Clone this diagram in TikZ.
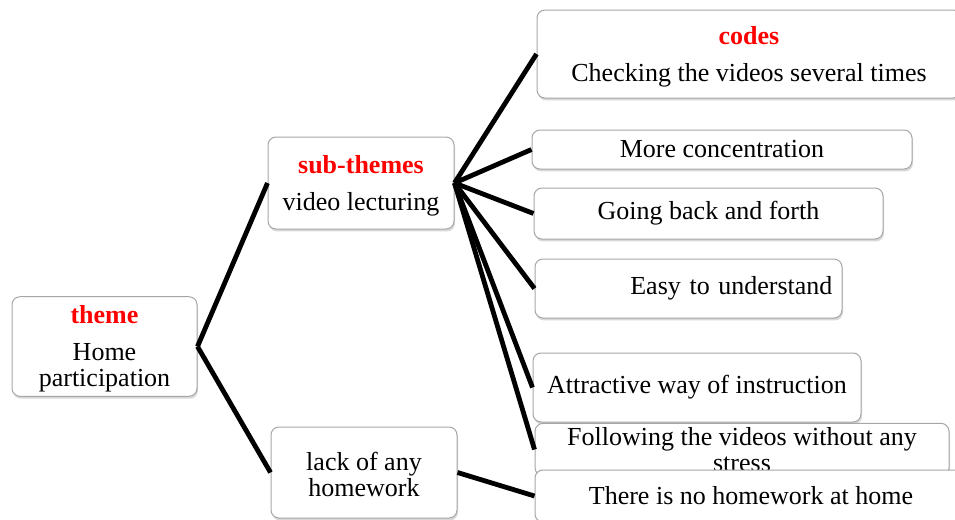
\documentclass[tikz,border=0pt]{standalone}
\usepackage{fontspec}
\setmainfont{Liberation Serif}
\usepackage{tikz}
\usetikzlibrary{shadows}
\tikzset{box/.style={draw=gray!70,line width=0.5pt,rounded corners=4pt,fill=white,
    align=center,inner sep=2pt,font=\fontsize{13}{13}\selectfont,
    drop shadow={shadow xshift=0.5pt,shadow yshift=-1.2pt,fill=gray!60,opacity=0.5}},
  link/.style={line width=2.4pt}}
\newcommand{\hdr}[1]{\rule{0pt}{11.5pt}\textcolor{red}{\textbf{#1}}\\[5.5pt]}

\begin{document}
\begin{tikzpicture}[x=0.5pt,y=-0.5pt]
           \useasboundingbox (0,0) rectangle (955,520);
           \clip (0,0) rectangle (955,520);
           \node[box,minimum width=92.5pt,minimum height=46.5pt] (t_1) at (104.5,346.5) {\hdr{theme}Home\\participation};
           \node[box,minimum width=93pt,minimum height=46pt] (s_1) at (361,183) {\hdr{sub-themes}video lecturing};
           \node[box,minimum width=93pt,minimum height=45.5pt] (s_2) at (364,472.5) {\rule{0pt}{11.5pt}lack of any\\homework};
           \node[box,minimum width=212pt,minimum height=44pt] (c_1) at (749,54) {\hdr{codes}Checking the videos several times};
           \node[box,minimum width=190pt,minimum height=19.5pt] (c_2) at (722,149.5) {More concentration};
           \node[box,minimum width=174.5pt,minimum height=25.5pt] (c_3) at (708.5,213.5) {Going back and forth};
           \node[box,minimum width=153.5pt,minimum height=29.5pt,text width=144pt,align=right] (c_4) at (688.5,288.5) {Easy to understand};
           \node[box,minimum width=164pt,minimum height=34.5pt] (c_5) at (697,387.5) {Attractive way of instruction};
           \node[box,minimum width=207pt,minimum height=26pt] (c_6) at (742,449.5) {Following the videos without any\\stress};
           \node[box,minimum width=216pt,minimum height=26pt] (c_7) at (751,496) {There is no homework at home};
            \path[link]
            (t_1.east) edge (s_1.west)
                       edge (s_2.west)
            (s_1.east) edge (c_1.west)
                       edge (c_2.west)
                       edge (c_3.west)
                       edge (c_4.west)
                       edge (c_5.west)
                       edge (c_6.west)
            (s_2.east) edge (c_7.west);
        \end{tikzpicture}
\end{document}
